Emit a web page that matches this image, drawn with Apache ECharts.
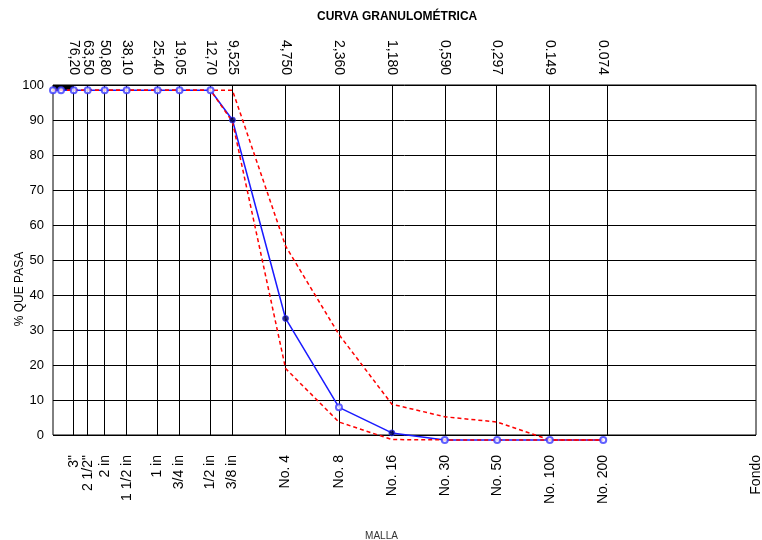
<!DOCTYPE html>
<html><head><meta charset="utf-8">
<script src="https://cdn.jsdelivr.net/npm/echarts@6/dist/echarts.min.js"></script>
<style>html,body{margin:0;padding:0;background:#fff}#c{width:762px;height:540px}</style>
</head><body><div id="c"></div>
<script>
// Sieve sizes (mm) of the measured points
const sieveSizes = [100, 90, 76.2, 63.5, 50.8, 38.1, 25.4, 19.05, 12.7, 9.525, 4.75, 2.36, 1.18, 0.59, 0.297, 0.149, 0.074];
// % que pasa (sample)
const passing = [98.5, 98.5, 98.5, 98.5, 98.5, 98.5, 98.5, 98.5, 98.5, 90.0, 33.3, 7.9, 0.6, -1.4, -1.4, -1.4, -1.4];
// Upper / lower specification limits
const upperLimit = [98.5, 98.5, 98.5, 98.5, 98.5, 98.5, 98.5, 98.5, 98.5, 98.5, 54.0, 28.7, 8.8, 5.2, 3.7, -1.4, -1.4];
const lowerLimit = [98.5, 98.5, 98.5, 98.5, 98.5, 98.5, 98.5, 98.5, 98.5, 89.5, 19.0, 3.7, -1.3, -1.4, -1.4, -1.4, -1.4];
// Points drawn with filled markers
const filledSizes = [9.525, 4.75, 1.18];

// Vertical grid positions and their labels
const gridSizes = [76.2, 63.5, 50.8, 38.1, 25.4, 19.05, 12.7, 9.525, 4.75, 2.36, 1.18, 0.59, 0.297, 0.149, 0.074];
const sizeLabels = ['76,20', '63,50', '50,80', '38,10', '25,40', '19,05', '12,70', '9,525', '4,750', '2,360', '1,180', '0,590', '0,297', '0.149', '0.074'];
const sieveNames = ['3"', '2 1/2"', '2 in', '1 1/2 in', '1 in', '3/4 in', '1/2 in', '3/8 in', 'No. 4', 'No. 8', 'No. 16', 'No. 30', 'No. 50', 'No. 100', 'No. 200'];
const panSize = 0.01;
const panName = 'Fondo';

// Extra dark segment on the 0,590 line
const markSegment = [[0.59, 79.5], [0.59, 74.4]];
// Black block at top-left
const blockArea = [[100, 98.4], [76.2, 100]];

const bottomValues = gridSizes.concat([panSize]);
const bottomNames = sieveNames.concat([panName]);

function nearestIndex(list, v) {
  let best = 0, bd = Infinity;
  list.forEach((s, i) => { const d = Math.abs(Math.log(s) - Math.log(v)); if (d < bd) { bd = d; best = i; } });
  return best;
}

const SANS = "'Liberation Sans', Arial, sans-serif";

const chart = echarts.init(document.getElementById('c'), null, { renderer: 'canvas' });
const pair = (xs, ys) => xs.map((x, i) => [x, ys[i]]);

chart.setOption({
  animation: false,
  backgroundColor: '#fff',
  title: {
    text: 'CURVA GRANULOMÉTRICA',
    left: 312, top: 6,
    textStyle: { fontFamily: SANS, fontSize: 12, fontWeight: 'bold', color: '#000' }
  },
  grid: { left: 53, right: 6, top: 85, bottom: 105, show: true, borderColor: '#000', borderWidth: 1, backgroundColor: 'transparent', containLabel: false, outerBoundsMode: 'none' },
  xAxis: [
    {
      type: 'log', logBase: 10, min: 0.01, max: 100, inverse: true, position: 'bottom',
      axisLine: { show: false }, axisTick: { show: false }, splitLine: { show: false },
      axisLabel: {
        customValues: bottomValues, rotate: 90, margin: 20, fontSize: 14, color: '#000', fontFamily: SANS,
        showMinLabel: true, showMaxLabel: true, hideOverlap: false,
        formatter: v => bottomNames[nearestIndex(bottomValues, v)]
      },
      name: 'MALLA', nameLocation: 'middle', nameGap: 96, nameMoveOverlap: false,
      nameTextStyle: { fontFamily: SANS, fontSize: 10, color: '#333', padding: [0, 46, 0, 0] }
    },
    {
      type: 'log', logBase: 10, min: 0.01, max: 100, inverse: true, position: 'top',
      axisLine: { show: false }, axisTick: { show: false }, splitLine: { show: false },
      axisLabel: {
        customValues: gridSizes, rotate: 90, margin: 10, fontSize: 14, color: '#000', fontFamily: SANS,
        hideOverlap: false,
        formatter: v => sizeLabels[nearestIndex(gridSizes, v)]
      }
    }
  ],
  yAxis: {
    type: 'value', min: 0, max: 100, interval: 10,
    axisLine: { show: false }, axisTick: { show: false },
    splitLine: { show: true, lineStyle: { color: '#000', width: 1 } },
    axisLabel: { fontFamily: SANS, fontSize: 13, color: '#000', margin: 9, padding: [9, 0, 0, 0] },
    name: '% QUE PASA', nameLocation: 'middle', nameGap: 27, nameMoveOverlap: false,
    nameTextStyle: { fontFamily: SANS, fontSize: 12, color: '#000', padding: [0, 58, 0, 0] }
  },
  series: [
    {
      type: 'line', name: 'grid', data: [], silent: true,
      markLine: {
        silent: true, z: 1, symbol: ['none', 'none'], label: { show: false },
        lineStyle: { color: '#000', width: 1, type: 'solid' },
        data: gridSizes.map(s => ({ xAxis: s })).concat([[{ coord: markSegment[0] }, { coord: markSegment[1] }]])
      },
      markArea: {
        silent: true, itemStyle: { color: '#000' },
        data: [[{ coord: blockArea[0] }, { coord: blockArea[1] }]]
      }
    },
    {
      type: 'line', name: 'Muestra', data: pair(sieveSizes, passing), showSymbol: false, clip: false, z: 2,
      lineStyle: { color: '#1a1aff', width: 1.5 }
    },
    {
      type: 'line', name: 'Límite superior', data: pair(sieveSizes, upperLimit), showSymbol: false, clip: false, z: 3,
      lineStyle: { color: '#ff0000', width: 1.5, type: [4, 3] }
    },
    {
      type: 'line', name: 'Límite inferior', data: pair(sieveSizes, lowerLimit), showSymbol: false, clip: false, z: 3,
      lineStyle: { color: '#ff0000', width: 1.5, type: [4, 3] }
    },
    {
      type: 'scatter', name: 'puntos', data: pair(sieveSizes, passing).filter(p => filledSizes.indexOf(p[0]) < 0),
      symbol: 'emptyCircle', symbolSize: 6, clip: false, z: 4,
      itemStyle: { color: '#3a3aff', borderWidth: 1.3 }
    },
    {
      type: 'scatter', name: 'puntos llenos', data: pair(sieveSizes, passing).filter(p => filledSizes.indexOf(p[0]) >= 0),
      symbol: 'circle', symbolSize: 6, clip: false, z: 5,
      itemStyle: { color: '#00004d', borderColor: '#3333ff', borderWidth: 1 }
    }
  ]
});
</script>
</body></html>
